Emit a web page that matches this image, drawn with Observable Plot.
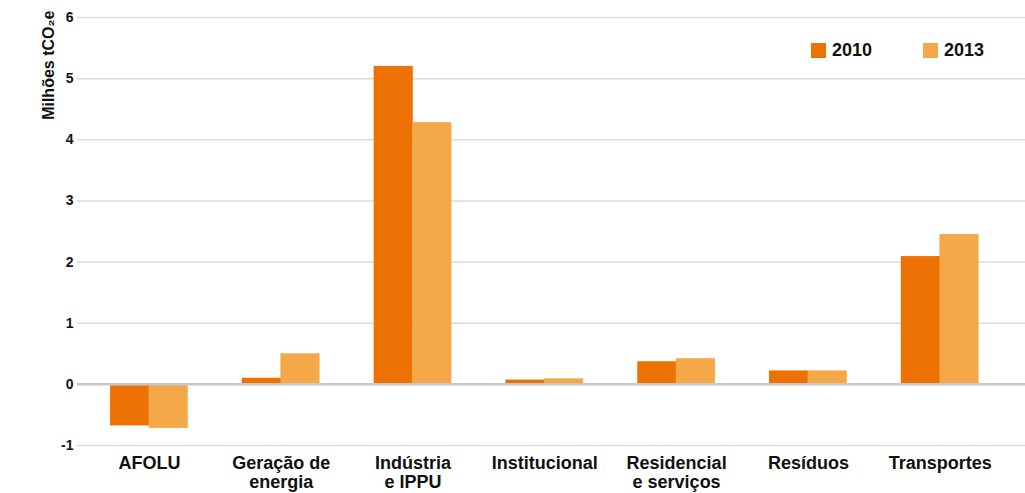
<!DOCTYPE html>
<html><head><meta charset="utf-8">
<script src="https://cdn.jsdelivr.net/npm/d3@7"></script>
<script src="https://cdn.jsdelivr.net/npm/@observablehq/plot@0.6"></script>
<style>
body{margin:0;background:#fff;font-family:"Liberation Sans",Arial,sans-serif;}
#wrap{position:relative;width:1025px;height:493px;}
.leg{position:absolute;top:40px;display:flex;align-items:center;font-weight:bold;font-size:18px;color:#111;}
.leg span.sw{display:inline-block;width:15px;height:15px;margin-right:6px;}
</style></head>
<body><div id="wrap"></div>
<script>
const categories = ["AFOLU","Geração de\nenergia","Indústria\ne IPPU","Institucional","Residencial\ne serviços","Resíduos","Transportes"];
const years = ["2010","2013"];
const values2010 = [-0.68, 0.10, 5.20, 0.07, 0.37, 0.22, 2.09];
const values2013 = [-0.72, 0.50, 4.28, 0.09, 0.42, 0.22, 2.45];
const yTicks = [-1,0,1,2,3,4,5,6];
const colors = ["#ee7203","#f5a847"];
const yLabel = "Milhões tCO₂e";

const data = categories.flatMap((c,i)=>[
  {cat:c, year:"2010", value:values2010[i]},
  {cat:c, year:"2013", value:values2013[i]}
]);

const W = 1025, H = 493;
const xRange = [83, 1005.6], padIn = 0.41, padOut = 0.205;
const step = (xRange[1]-xRange[0])/(categories.length - padIn + 2*padOut);
const bw = step*(1-padIn);

const chart = Plot.plot({
  width: W, height: H,
  marginLeft: 77, marginRight: 0, marginTop: 17, marginBottom: 48,
  style: {fontFamily: '"Liberation Sans", Arial, sans-serif', color:"#111", background:"#fff"},
  x: {type:"band", domain: categories, range: xRange, paddingInner: padIn, paddingOuter: padOut, round: false, label: null},
  y: {domain: [-1, 6], label: null},
  color: {domain: years, range: colors},
  marks: [
    Plot.ruleY(yTicks, {stroke:"#dcdcdc", strokeWidth:1.5}),
    Plot.barY(data.filter(d=>d.year==="2010"), {x:"cat", y:"value", fill:"year", insetRight: bw/2 - 0.3}),
    Plot.barY(data.filter(d=>d.year==="2013"), {x:"cat", y:"value", fill:"year", insetLeft: bw/2 - 0.3}),
    Plot.ruleY([0], {stroke:"#c8c8c8", strokeWidth:2.5}),
    Plot.axisY({ticks: yTicks, tickSize:0, tickPadding:4, fontSize:14, fontWeight:"bold", label:null, tickFormat: d=>String(d)}),
    Plot.axisX({tickSize:0, tickPadding:9, fontSize:18, fontWeight:"bold", lineHeight:1.1, label:null}),
    Plot.text([yLabel], {frameAnchor:"top-left", rotate:-90, textAnchor:"end", dx:-35, dy:-7, fontSize:16, fontWeight:"bold", fill:"#111"})
  ]
});
const wrap = document.getElementById("wrap");
wrap.appendChild(chart);
const legPos = [811, 923];
years.forEach((y,i)=>{
  const d = document.createElement("div");
  d.className="leg"; d.style.left = legPos[i]+"px";
  d.innerHTML = `<span class="sw" style="background:${colors[i]}"></span>${y}`;
  wrap.appendChild(d);
});
</script></body></html>
